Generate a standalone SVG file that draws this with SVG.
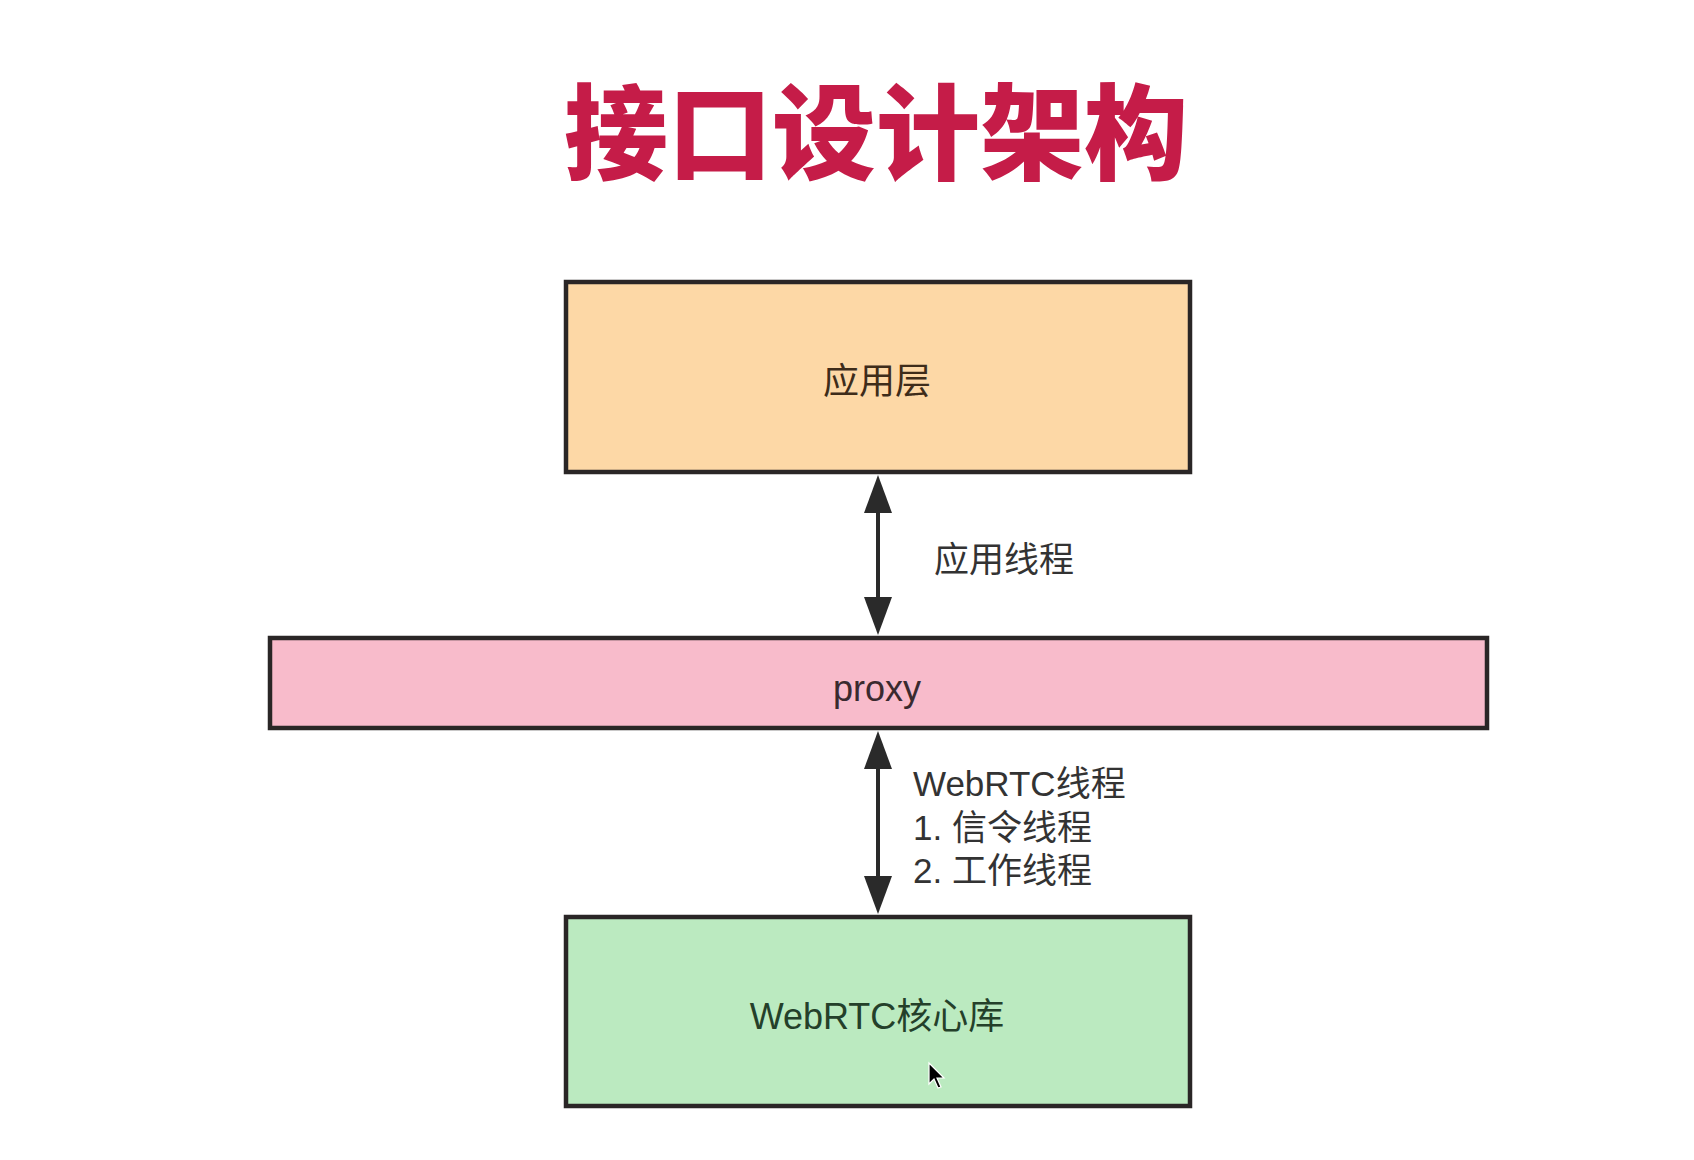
<svg xmlns="http://www.w3.org/2000/svg" width="1694" height="1160" viewBox="0 0 1694 1160">
  <style>
    .title { font-family: "Noto Sans CJK SC", "Noto Sans", sans-serif; font-weight: 900; font-size: 104px; fill: #C51C48; }
    .box { stroke: #2a2626; stroke-width: 4.5; }
    .label { font-family: "Liberation Sans", "Noto Sans CJK SC", sans-serif; font-size: 36px; text-anchor: middle; dominant-baseline: central; }
    .edge-label { font-family: "Liberation Sans", "Noto Sans CJK SC", sans-serif; font-size: 35px; fill: #333333; }
    .conn { stroke: #2a2a2a; stroke-width: 4; fill: none; }
  </style>
  <defs>
    <marker id="head" viewBox="0 0 38 28" markerUnits="userSpaceOnUse" markerWidth="38" markerHeight="28" refX="8" refY="14" orient="auto-start-reverse">
      <path d="M0,0 L38,14 L0,28 z" fill="#2a2a2a"/>
    </marker>
  </defs>

  <rect width="1694" height="1160" fill="#ffffff"/>

  <text class="title" x="876" y="172" text-anchor="middle">接口设计架构</text>

  <g id="app-layer">
    <rect class="box" x="566" y="282" width="624" height="190" fill="#FDD8A6"/>
    <text class="label" x="877" y="381" fill="#3e2c1a">应用层</text>
  </g>

  <g id="proxy">
    <rect class="box" x="270" y="638" width="1217" height="90" fill="#F8BBCB"/>
    <text class="label" x="877" y="688" fill="#3a2a2f" font-size="38">proxy</text>
  </g>

  <g id="webrtc-core">
    <rect class="box" x="566" y="917" width="624" height="189" fill="#BBEAC0"/>
    <text class="label" x="877" y="1016" fill="#24402a" font-size="37">WebRTC核心库</text>
  </g>

  <g id="connectors">
    <line class="conn" x1="878" y1="505" x2="878" y2="605" marker-start="url(#head)" marker-end="url(#head)"/>
    <line class="conn" x1="878" y1="761" x2="878" y2="884" marker-start="url(#head)" marker-end="url(#head)"/>
    <text class="edge-label" x="934" y="572">应用线程</text>
    <text class="edge-label" x="913" y="796">WebRTC线程</text>
    <text class="edge-label" x="913" y="840">1. 信令线程</text>
    <text class="edge-label" x="913" y="883">2. 工作线程</text>
  </g>

  <!-- pointer cursor -->
  <path d="M929,1063 L929,1084 L934,1079 L938,1088 L941,1087 L937,1078 L944,1078 z" fill="#000000" stroke="#ffffff" stroke-width="1.2"/>
</svg>
